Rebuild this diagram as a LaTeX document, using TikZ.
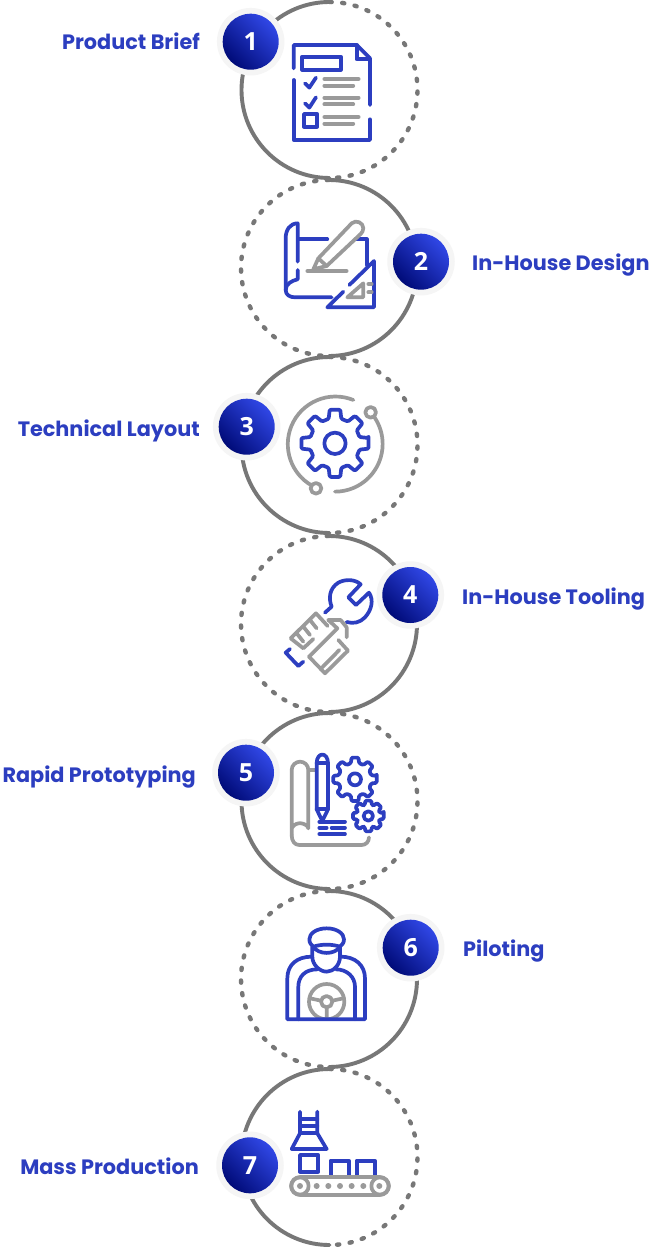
\documentclass[tikz,border=0pt]{standalone}
\usepackage{fontspec}
\newfontfamily\lblfont{Poppins}[UprightFont={* Bold},BoldFont={* Bold}]
\newfontfamily\numfont{Open Sans}
\definecolor{iblue}{HTML}{2C3EC0}
\definecolor{igrey}{HTML}{9A9A9A}
\definecolor{arcgrey}{HTML}{777777}
\definecolor{bdark}{HTML}{000B78}
\definecolor{blight}{HTML}{3047E6}
\definecolor{ringc}{HTML}{F5F5F5}
\tikzset{
  solidarc/.style={draw=arcgrey,line width=3.9pt,line cap=round},
  dotarc/.style={draw=arcgrey,line width=4.4pt,line cap=round,dash pattern=on 2.2pt off 10.5pt},
  bl/.style={draw=iblue,line width=3.7pt,line cap=round,line join=round},
  gr/.style={draw=igrey,line width=3.7pt,line cap=round,line join=round},
  lbl/.style={text=iblue,font=\lblfont\fontsize{20.8}{24}\selectfont,inner sep=0pt},
  badgering/.style={circle,fill=ringc,minimum size=67.5pt,inner sep=0pt},
  badge/.style={circle,minimum size=56pt,inner sep=0pt,text=white,font=\numfont\bfseries\fontsize{25}{30}\selectfont,
     bottom color=bdark,top color=blight,shading angle=-45},
  zoomed/.style={x=0.3333pt,y=-0.3333pt}
}
% gear: centre in current coords, outer, inner, teeth, half tooth angle
\newcommand{\gearshape}[6]{%
  \begin{scope}[shift={#1}]
  \draw[#6,rounded corners=1.2pt] (-#5:#2)
   \foreach \t in {1,...,#4}{
     -- ({(\t-1)*360/#4-#5}:#2) -- ({(\t-1)*360/#4+#5}:#2)
     -- ({(\t-1)*360/#4+#5*1.6}:#3) -- ({\t*360/#4-#5*1.6}:#3)
   } -- cycle;
  \end{scope}}
\begin{document}
\begin{tikzpicture}[x=1pt,y=-1pt]
\useasboundingbox (0,0) rectangle (650,1249);
\fill[white] (0,0) rectangle (650,1249);
% --- arcs: dotted half first, then solid half
\foreach \cy/\r/\side in {90/88/1,268/88/2,445/88/1,624/88/2,801/88/1,979/88/2,1157/88/1}{
  \ifnum\side=1
    \draw[dotarc] (329.5,\cy) ++(-90:\r) arc[start angle=-90,end angle=90,radius=\r];
    \draw[solidarc] (329.5,\cy) ++(-90:\r) arc[start angle=-90,end angle=-270,radius=\r];
  \else
    \draw[dotarc] (329,\cy) ++(-90:\r) arc[start angle=-90,end angle=-270,radius=\r];
    \draw[solidarc] (329,\cy) ++(-90:\r) arc[start angle=-90,end angle=90,radius=\r];
  \fi
}
% --- badges
\foreach \nm/\bx/\by/\dg in {a/250.7/41.7/1,b/421/261.7/2,c/246.7/426.7/3,d/410.3/595/4,e/246/772.7/5,f/410.7/947.7/6,g/250/1165.3/7}{
  \node[badgering] (ring\nm) at (\bx,\by) {};
  \node[badge] (badge\nm) at (\bx,\by) {\dg};
}
% --- labels
\node[lbl,anchor=base east] (t1) at (200,50) {Product Brief};
\node[lbl,anchor=base west] (t2) at (472,270) {In-House Design};
\node[lbl,anchor=base east] (t3) at (200,436) {Technical Layout};
\node[lbl,anchor=base west] (t4) at (462,604) {In-House Tooling};
\node[lbl,anchor=base east] (t5) at (196,782) {Rapid Prototyping};
\node[lbl,anchor=base west] (t6) at (463,956) {Piloting};
\node[lbl,anchor=base east] (t7) at (199,1174) {Mass Production};
% --- icon 1
\begin{scope}[shift={(200,0)},zoomed]
\draw[bl] (281,205)--(281,135)--(470,135)--(510,175)--(510,315);
\draw[bl] (510,358)--(510,420)--(281,420)--(281,240);
\draw[bl] (470,135)--(470,178)--(510,178);
\draw[bl] (307,170) rectangle (423,209);
\draw[bl] (315,250)--(328,263)--(348,233);
\draw[bl] (315,310)--(328,323)--(348,292);
\draw[bl] (312,342) rectangle (352,380);
\foreach \yy in {237,293,351}{\draw[gr] (373,\yy)--(476,\yy);}
\foreach \yy in {257,313,371}{\draw[gr] (373,\yy)--(460,\yy);}
\end{scope}
% --- icon 2
\begin{scope}[shift={(230,180)},zoomed]
\draw[bl] (203,245)--(203,130) .. controls (180,130) and (167,150) .. (167,175)--(167,330) .. controls (167,345) and (180,352) .. (195,352)--(305,352);
\draw[bl] (203,270)--(203,298) .. controls (185,302) and (167,312) .. (167,330);
\draw[bl] (205,178)--(292,178);
\draw[bl] (378,178)--(410,178)--(410,255);
\draw[bl] (358,315)--(432,243)--(432,382)--(292,382)--(340,335);
\draw[gr] (232,273)--(350,273);
\draw[gr] (250,268)--(265,235)--(365,130) .. controls (378,118) and (400,128) .. (400,145) .. controls (400,152) and (396,158) .. (392,162)--(290,258)--cycle;
\draw[gr] (265,235)--(290,258);
\draw[gr] (400,310)--(400,352)--(352,352)--cycle;
\draw[gr] (415,312)--(425,312) (415,337)--(425,337);
\end{scope}
% --- icon 3
\begin{scope}[shift={(210,360)},zoomed]
\draw[gr] (430,120) arc[start angle=-68,end angle=-240,radius=143];
\draw[gr] (375,395) arc[start angle=90,end angle=-35,radius=143];
\draw[gr] (318,385) circle[radius=16];
\draw[gr] (482,157) circle[radius=16];
\draw[bl] (375,250) circle[radius=32];
\gearshape{(375,250)}{102}{76}{8}{9}{bl}
\end{scope}
% --- icon 4
\begin{scope}[shift={(230,540)},zoomed]
\draw[bl] (285,218)--(305,200) .. controls (295,175) and (298,145) .. (325,128) .. controls (345,117) and (375,117) .. (392,133)--(355,172)--(378,195)--(417,158) .. controls (432,180) and (425,210) .. (405,232) .. controls (390,248) and (370,252) .. (350,246);
\draw[bl] (180,327)--(167,338)--(205,378)--(220,365);
\draw[gr] (182,295)--(258,220)--(293,258) (182,295)--(220,325)--(250,297);
\draw[gr] (200,280)--(220,305) (220,260)--(240,285) (240,240)--(260,265);
\draw[gr] (295,240)--(332,240)--(350,262)--(350,292);
\draw[gr] (237,350)--(322,265)--(295,240);
\draw[gr] (237,350)--(285,400)--(354,332)--(325,300);
\draw[gr] (272,387)--(328,330);
\end{scope}
% --- icon 5
\begin{scope}[shift={(210,720)},zoomed]
\draw[gr] (245,345)--(245,150) .. controls (245,135) and (258,125) .. (270,125) .. controls (283,125) and (295,135) .. (295,150)--(295,325) .. controls (292,310) and (258,300) .. (245,325);
\draw[gr] (245,345) .. controls (245,365) and (255,375) .. (268,375)--(455,375) .. controls (468,375) and (477,365) .. (477,352);
\draw[gr] (297,150)--(315,150);
\draw[bl] (320,130) .. controls (320,95) and (354,95) .. (354,130)--(354,268)--(337,303)--(320,268)--cycle;
\draw[bl] (320,130)--(354,130) (320,268)--(354,268);
\draw[bl] (328,305)--(405,305) (328,323)--(350,323) (365,323)--(405,323) (328,342)--(405,342);
\draw[bl] (435,178) circle[radius=18];
\gearshape{(435,178)}{66}{50}{8}{9}{bl}
\draw[bl] (475,288) circle[radius=14];
\gearshape{(475,288)}{47}{35}{8}{11}{bl}
\end{scope}
% --- icon 6
\begin{scope}[shift={(230,890)},zoomed]
\begin{scope}
\clip (170,200) rectangle (410,385);
\draw[gr] (290,335) circle[radius=53];
\end{scope}
\draw[gr] (290,335) circle[radius=17];
\draw[gr] (240,325)--(273,332) (307,332)--(340,325) (290,352)--(290,385);
\draw[bl] (290,115) .. controls (320,115) and (342,130) .. (342,148) .. controls (342,160) and (335,165) .. (330,170) .. controls (305,162) and (275,162) .. (250,170) .. controls (245,165) and (238,160) .. (238,148) .. controls (238,130) and (260,115) .. (290,115);
\draw[bl] (250,170) .. controls (265,195) and (315,195) .. (330,170);
\draw[bl] (247,170)--(247,200) .. controls (247,225) and (270,245) .. (290,245) .. controls (310,245) and (330,225) .. (330,200)--(330,170);
\draw[bl] (245,200) .. controls (200,200) and (172,225) .. (172,265)--(172,388)--(405,388)--(405,265) .. controls (405,225) and (375,200) .. (333,200);
\draw[bl] (205,388)--(205,290) .. controls (205,260) and (225,238) .. (262,238);
\draw[bl] (318,238) .. controls (350,238) and (375,260) .. (375,290)--(375,388);
\end{scope}
% --- icon 7
\begin{scope}[shift={(210,1070)},zoomed]
\draw[bl] (270,125)--(270,190)--(245,237)--(350,237)--(322,190)--(322,125);
\draw[bl] (270,147)--(322,147) (270,168)--(322,168) (270,190)--(322,190);
\draw[bl] (270,255) rectangle (325,305);
\draw[bl] (362,315)--(362,272)--(417,272)--(417,315);
\draw[bl] (440,315)--(440,272)--(495,272)--(495,315);
\draw[gr,rounded corners=9.3pt] (243,321) rectangle (537,375);
\draw[gr] (270,348) circle[radius=26];
\draw[gr] (510,348) circle[radius=26];
\foreach \xx in {270,320,355,390,425,460,508}{\fill[igrey] (\xx,348) circle[radius=9];}
\end{scope}
\end{tikzpicture}
\end{document}
